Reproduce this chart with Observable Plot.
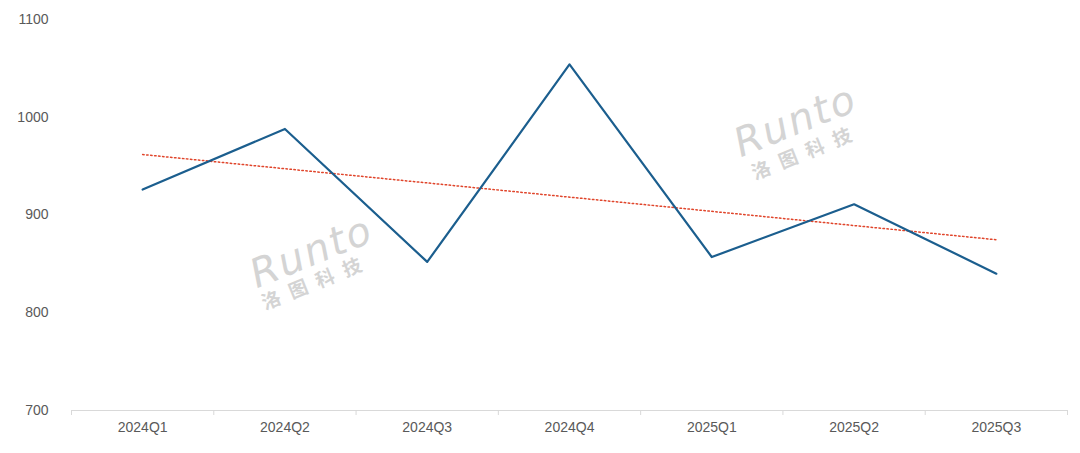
<!DOCTYPE html>
<html>
<head>
<meta charset="utf-8">
<script src="https://cdn.jsdelivr.net/npm/d3@7"></script>
<script src="https://cdn.jsdelivr.net/npm/@observablehq/plot@0.6"></script>
<style>
  html, body { margin: 0; padding: 0; background: #fff; }
  #chart { width: 1080px; height: 453px; }
</style>
</head>
<body>
<div id="chart"></div>
<script>
const quarters = ["2024Q1", "2024Q2", "2024Q3", "2024Q4", "2025Q1", "2025Q2", "2025Q3"];
const values = [926, 988, 852, 1054, 857, 911, 840];
const yTicks = [700, 800, 900, 1000, 1100];

const data = quarters.map((q, i) => ({i, q, v: values[i]}));
const boundaries = d3.range(quarters.length + 1).map(i => i - 0.5);

const wm = [
  {t: "Runto", dx: 795, dy: 121, size: 40},
  {t: "洛图科技", dx: 806, dy: 152, size: 19},
  {t: "Runto", dx: 311, dy: 252, size: 40},
  {t: "洛图科技", dx: 316, dy: 282, size: 19}
];

const chart = Plot.plot({
  width: 1080,
  height: 453,
  marginLeft: 71,
  marginRight: 13,
  marginTop: 19,
  marginBottom: 43,
  style: {fontFamily: "Liberation Sans, Arial, sans-serif", fontSize: "14px", color: "#595959", background: "#fff"},
  x: {domain: [-0.5, quarters.length - 0.5], axis: null},
  y: {domain: [700, 1100], axis: null},
  marks: [
    ...wm.map(w => Plot.text([w.t], {
      frameAnchor: "top-left", textAnchor: "middle", lineAnchor: "middle",
      dx: w.dx - 71, dy: w.dy - 19, text: d => d,
      fontSize: w.size, fill: "#d4d4d4", rotate: -22, fontStyle: w.size > 30 ? "italic" : "normal",
      fontWeight: w.size > 30 ? "normal" : "bold",
      fontFamily: w.size > 30 ? "DejaVu Sans, sans-serif" : "Noto Sans CJK SC, sans-serif"
    })),
    Plot.ruleY([700], {stroke: "#d9d9d9", strokeWidth: 1}),
    Plot.axisX({ticks: boundaries, tickSize: 5, tickFormat: () => "", stroke: "#d9d9d9", strokeOpacity: 1, label: null}),
    Plot.axisX({ticks: d3.range(quarters.length), tickSize: 0, tickPadding: 12, tickFormat: i => quarters[i], fill: "#595959", fontSize: 14, label: null}),
    Plot.axisY({ticks: yTicks, tickSize: 0, tickPadding: 23, tickFormat: d => String(d), fill: "#595959", fontSize: 14, label: null}),
    Plot.linearRegressionY(data, {x: "i", y: "v", ci: 0, stroke: "#e0452b", strokeWidth: 1.5, strokeDasharray: "1.5,2.5"}),
    Plot.line(data, {x: "i", y: "v", stroke: "#1b5e8e", strokeWidth: 2.2})
  ]
});
d3.select(chart).selectAll("text").filter(function() { return this.textContent === "洛图科技"; })
  .attr("letter-spacing", "10px");
d3.select(chart).selectAll("text").filter(function() { return this.textContent === "Runto"; })
  .attr("letter-spacing", "2px");
document.getElementById("chart").append(chart);
</script>
</body>
</html>
